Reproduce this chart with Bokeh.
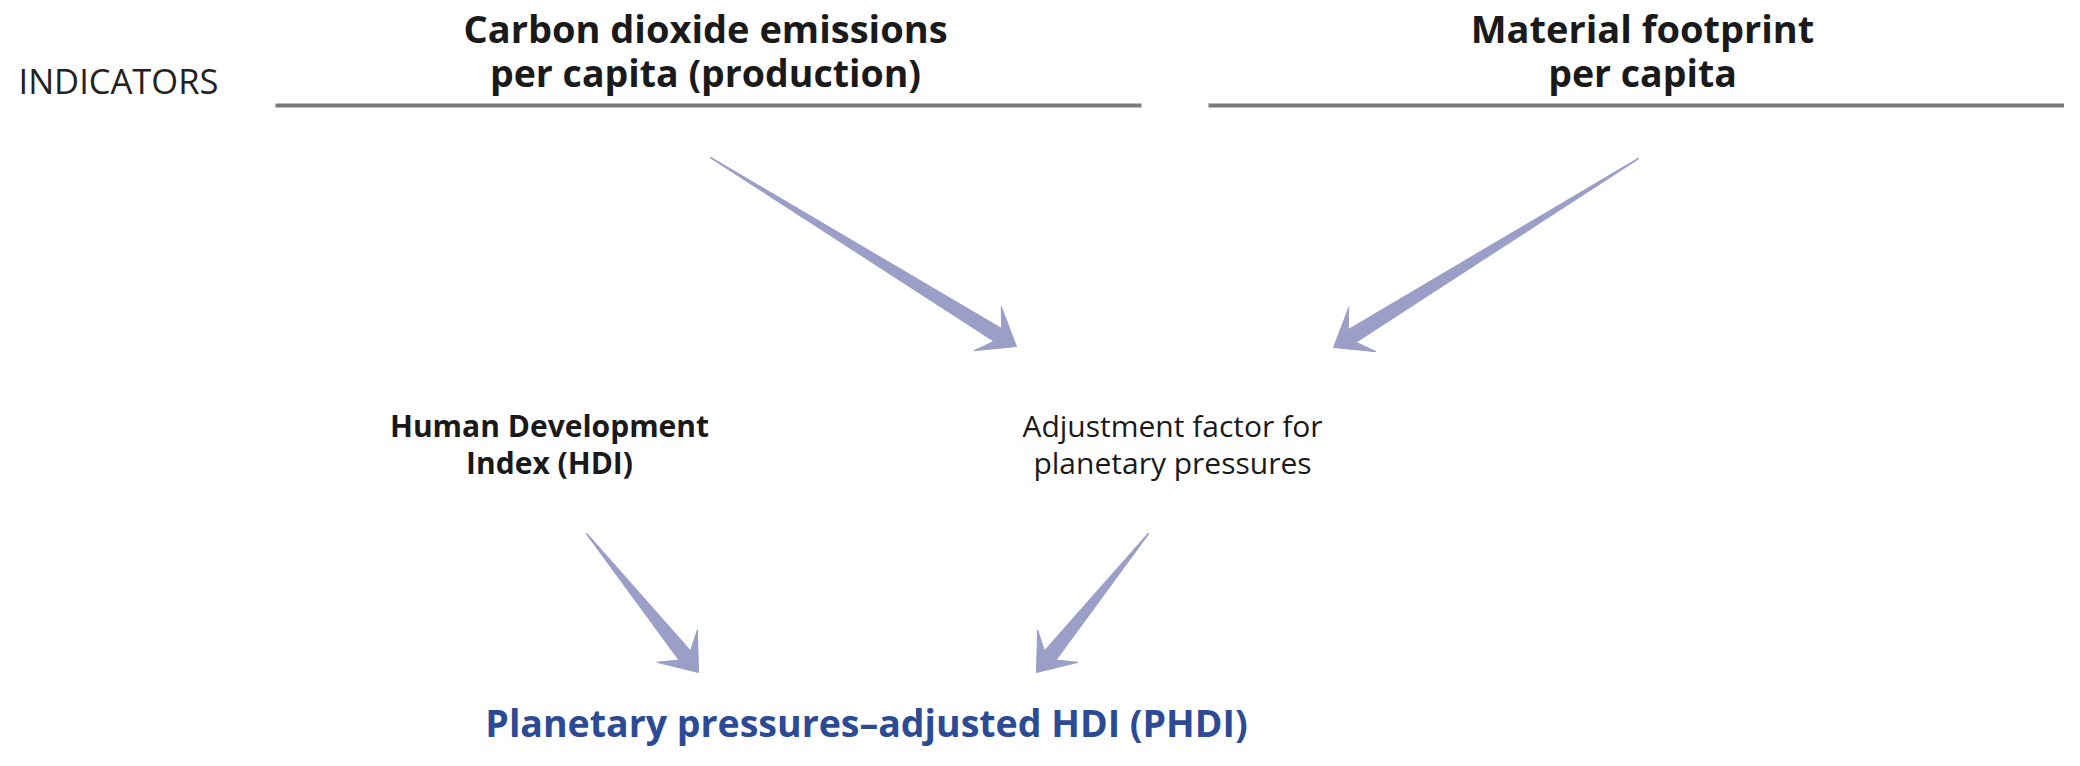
import numpy as np
from bokeh.plotting import figure
from bokeh.models import Range1d
from bokeh.embed import file_html
from bokeh.resources import INLINE
from bokeh.core.properties import value

# ---- texts of the diagram ----
section_label = ["INDICATORS"]
indicator_line1 = ["Carbon dioxide emissions", "Material footprint"]
indicator_line2 = ["per capita (production)", "per capita"]
component_line1 = ["Human Development", "Adjustment factor for"]
component_line2 = ["Index (HDI)", "planetary pressures"]
component_weight = ["bold", "normal"]
result_label = ["Planetary pressures\u2013adjusted HDI (PHDI)"]

# ---- layout (picture pixel coordinates) ----
FONT = "Open Sans"
W, H = 2064, 750
indicator_x = [705, 1642]
indicator_rule_x0 = [275, 1208]
indicator_rule_x1 = [1141, 2080]
rule_y = 105
component_x = [549, 1172]
arrow_start = [(710, 157), (1638, 158), (586, 533), (1148, 533)]
arrow_tip = [(1016, 346), (1333, 347), (698, 672), (1036, 672)]

ARROW_COLOR = "#9b9fc7"
TEXT_COLOR = "#1a1a1a"
BLUE = "#2d4a95"


def arrow_poly(s, t, shaft_hw=7.5, head_len=34.0, head_hw=26.0, junction=22.0):
    s = np.array(s, float)
    t = np.array(t, float)
    d = t - s
    u = d / np.hypot(*d)
    n = np.array([-u[1], u[0]])
    pts = [
        s + n * 0.4,
        t - u * junction + n * shaft_hw,
        t - u * head_len + n * head_hw,
        t,
        t - u * head_len - n * head_hw,
        t - u * junction - n * shaft_hw,
        s - n * 0.4,
    ]
    return [float(p[0]) for p in pts], [float(p[1]) for p in pts]


p = figure(
    width=W, height=H,
    x_range=Range1d(0, W), y_range=Range1d(H, 0),
    output_backend="svg", toolbar_location=None,
    min_border=0, outline_line_color=None,
)
p.axis.visible = False
p.grid.visible = False
p.background_fill_color = "white"
p.border_fill_color = "white"

# rules under the indicator titles
p.segment(x0=indicator_rule_x0, y0=[rule_y] * 2, x1=indicator_rule_x1, y1=[rule_y] * 2,
          line_color="#7a7a7a", line_width=4)

# arrows
xs, ys = [], []
for s, t in zip(arrow_start, arrow_tip):
    ax, ay = arrow_poly(s, t)
    xs.append(ax)
    ys.append(ay)
p.patches(xs=xs, ys=ys, fill_color=ARROW_COLOR, line_color=ARROW_COLOR, line_width=1)

# section label
p.text(x=[18], y=[80], text=section_label, text_font=value(FONT), text_font_size="34.5px",
       text_color="#222222", text_align="left", text_baseline="alphabetic")

# indicator titles
p.text(x=indicator_x, y=[27, 27], text=indicator_line1, text_font=value(FONT),
       text_font_size="38px", text_font_style="bold", text_color=TEXT_COLOR,
       text_align="center", text_baseline="alphabetic")
p.text(x=indicator_x, y=[72, 72], text=indicator_line2, text_font=value(FONT),
       text_font_size="37.5px", text_font_style="bold", text_color=TEXT_COLOR,
       text_align="center", text_baseline="alphabetic")

# components
for i in range(2):
    p.text(x=[component_x[i]], y=[425], text=[component_line1[i]], text_font=value(FONT),
           text_font_size="30px", text_font_style=component_weight[i], text_color=TEXT_COLOR,
           text_align="center", text_baseline="alphabetic")
    p.text(x=[component_x[i]], y=[462], text=[component_line2[i]], text_font=value(FONT),
           text_font_size="30px", text_font_style=component_weight[i], text_color=TEXT_COLOR,
           text_align="center", text_baseline="alphabetic")

# result (kept inside the canvas so that its descenders are not cut)
p.text(x=[866], y=[722], text=result_label, text_font=value(FONT), text_font_size="37.5px",
       text_font_style="bold", text_color=BLUE, text_align="center", text_baseline="alphabetic")

open("out.html", "w").write(file_html(p, INLINE))
